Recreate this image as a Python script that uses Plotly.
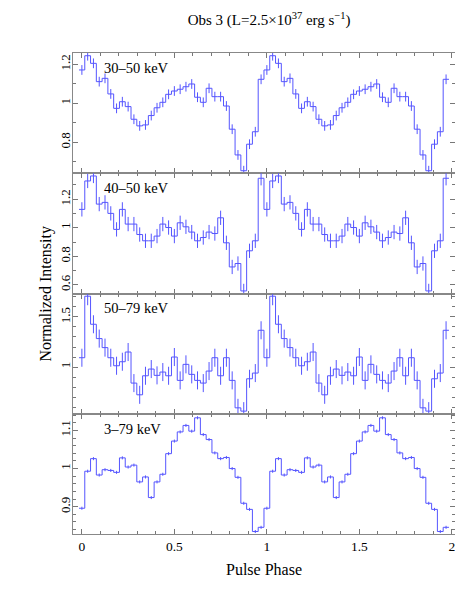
import numpy as np
import plotly.graph_objects as go
from plotly.subplots import make_subplots

# normalized pulse profiles, 32 bins per cycle (bin i centred on phase i/32)
band_labels = ["30–50 keV", "40–50 keV", "50–79 keV", "3–79 keV"]

prof_30_50 = [1.171, 1.244, 1.205, 1.111, 1.128, 1.048, 0.974, 1.008,
              0.983, 0.918, 0.884, 0.889, 0.937, 0.977, 1.005, 1.046,
              1.063, 1.072, 1.085, 1.099, 1.031, 1.005, 1.077, 1.034,
              1.034, 0.986, 0.867, 0.735, 0.654, 0.790, 0.854, 1.123]
prof_40_50 = [1.129, 1.328, 1.363, 1.166, 1.178, 1.101, 0.989, 1.129,
              1.026, 1.026, 0.953, 0.909, 0.909, 0.942, 1.026, 1.002,
              0.942, 1.035, 1.007, 0.970, 0.909, 0.932, 0.970, 0.960,
              1.070, 0.895, 0.726, 0.750, 0.558, 0.839, 0.909, 1.347]
prof_50_79 = [1.093, 1.707, 1.427, 1.284, 1.194, 1.093, 1.013, 1.053,
              1.150, 0.840, 0.723, 0.913, 0.980, 0.917, 0.950, 0.913,
              1.100, 0.867, 1.027, 0.927, 0.867, 0.840, 0.960, 1.093,
              0.913, 1.093, 0.867, 0.593, 0.560, 0.883, 0.940, 1.367]
prof_3_79 = [0.896, 0.993, 1.026, 0.983, 0.997, 0.995, 0.990, 1.028,
             1.004, 1.009, 0.965, 0.978, 0.924, 0.965, 0.985, 1.039,
             1.072, 1.096, 1.113, 1.098, 1.133, 1.089, 1.076, 1.041,
             1.026, 1.029, 1.000, 0.977, 0.909, 0.893, 0.835, 0.846]
profiles = [prof_30_50, prof_40_50, prof_50_79, prof_3_79]
errors = [0.025, 0.05, 0.09, 0.004]

y_ranges = [[0.641, 1.258], [0.54, 1.382], [0.534, 1.734], [0.8285, 1.1436]]
y_dticks = [0.2, 0.2, 0.5, 0.1]
y_minor = [0.1, 0.1, 0.1, 0.02]

NBIN = 32
COLOR = "rgb(85,85,255)"
FONT = "Liberation Serif"

fig = make_subplots(rows=4, cols=1, shared_xaxes=True, vertical_spacing=0)

for i, (prof, err) in enumerate(zip(profiles, errors), start=1):
    vals = np.array(prof * 2)  # two cycles
    centres = np.arange(len(vals)) / NBIN
    edges = (np.arange(len(vals) + 1) - 0.5) / NBIN
    fig.add_trace(
        go.Scatter(
            x=edges,
            y=np.append(vals, vals[-1]),
            mode="lines",
            line=dict(color=COLOR, width=1, shape="hv"),
            showlegend=False,
            hoverinfo="skip",
        ),
        row=i, col=1,
    )
    fig.add_trace(
        go.Scatter(
            x=centres,
            y=vals,
            mode="markers",
            marker=dict(size=1, color=COLOR, opacity=0),
            error_y=dict(type="constant", value=err, color=COLOR, thickness=1, width=0),
            showlegend=False,
        ),
        row=i, col=1,
    )
    fig.add_annotation(
        text=band_labels[i - 1],
        xref="x domain", yref="y domain",
        x=0.075, y=0.96, xanchor="left", yanchor="top",
        showarrow=False,
        font=dict(family=FONT, size=14.5, color="black"),
        row=i, col=1,
    )
    fig.update_yaxes(
        range=y_ranges[i - 1],
        dtick=y_dticks[i - 1],
        tickangle=-90,
        ticks="inside", ticklen=5, tickcolor="#777",
        minor=dict(dtick=y_minor[i - 1], ticks="inside", ticklen=3, tickcolor="#777"),
        showline=True, linecolor="#888", linewidth=1, mirror="allticks",
        showgrid=False, zeroline=False, automargin=False,
        ticklabelstandoff=-3,
        tickfont=dict(family=FONT, size=13, color="black"),
        row=i, col=1,
    )

fig.update_xaxes(
    range=[-0.048, 2.017],
    tickvals=[0, 0.5, 1, 1.5, 2],
    ticktext=["0", "0.5", "1", "1.5", "2"],
    ticks="inside", ticklen=5, tickcolor="#777",
    minor=dict(dtick=0.1, ticks="inside", ticklen=3, tickcolor="#777"),
    showline=True, linecolor="#888", linewidth=1, mirror="allticks",
    showgrid=False, zeroline=False, automargin=False,
    tickfont=dict(family=FONT, size=13.5, color="black"),
)
fig.update_xaxes(
    title=dict(text="Pulse Phase", font=dict(family=FONT, size=16, color="black"), standoff=10),
    row=4, col=1,
)

fig.add_annotation(
    text="Normalized Intensity",
    xref="paper", yref="paper", x=-0.073, y=0.5,
    xanchor="center", yanchor="middle",
    textangle=-90, showarrow=False,
    font=dict(family=FONT, size=16, color="black"),
)

fig.update_layout(
    title=dict(
        text="Obs 3 (L=2.5×10<sup>37</sup> erg s<sup>−1</sup>)",
        x=0.564, xanchor="center", y=0.98, yanchor="middle",
        font=dict(family=FONT, size=15, color="black"),
    ),
    width=463,
    height=607,
    margin=dict(l=65, r=16, t=45, b=81),
    plot_bgcolor="white",
    paper_bgcolor="white",
)

fig.write_html("out.html")
